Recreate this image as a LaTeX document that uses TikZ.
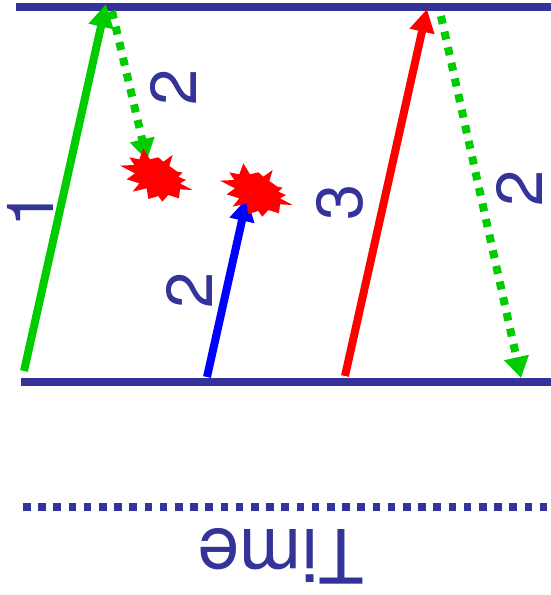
\documentclass[tikz,border=0pt]{standalone}
\usepackage{fontspec}
\setmainfont{TeX Gyre Heros}
\usetikzlibrary{arrows.meta}
\definecolor{navy}{HTML}{333399}
\definecolor{grn}{HTML}{00CC00}
\tikzset{
  baseline rule/.style={draw=navy,line width=8pt},
  msg/.style={line width=8pt,-{Triangle[length=23pt,width=24pt]}},
  retry/.style={line width=8pt,dash pattern=on 8pt off 8pt,-{Triangle[length=21pt,width=24pt]}},
  numlabel/.style={text=navy,font=\fontsize{65}{65}\selectfont,rotate=90,inner sep=0pt},
  timelabel/.style={text=navy,font=\fontsize{75}{75}\selectfont,rotate=180,inner sep=0pt},
  burst/.style={fill=red,draw=none}
}
\newcommand{\burstpath}{(60,107) -- (103,105) -- (88,82) -- (118,88) -- (130,55) -- (150,88) -- (175,82) -- (190,95) -- (218,75) -- (208,108) -- (232,125) -- (248,128) -- (235,140) -- (258,150) -- (240,160) -- (278,180) -- (240,178) -- (237,205) -- (205,195) -- (187,215) -- (175,198) -- (145,207) -- (140,175) -- (98,185) -- (118,160) -- (80,148) -- (105,130) -- cycle}
\begin{document}
\begin{tikzpicture}[x=1pt,y=-1pt]
\useasboundingbox (0,0) rectangle (551,595);
% named ends
\coordinate (topL) at (16,6.5);
\coordinate (topR) at (551,6.5);
\coordinate (botL) at (21,381.5);
\coordinate (botR) at (551,381.5);
\coordinate (timeL) at (23,507);
\coordinate (timeR) at (547,507);
\coordinate (a1s) at (24,371);
\coordinate (a1e) at (106,4);
\coordinate (d1s) at (112,11);
\coordinate (d1e) at (147,160);
\coordinate (a2s) at (207,377);
\coordinate (a2e) at (247,198);
\coordinate (a3s) at (345,376);
\coordinate (a3e) at (427,9);
\coordinate (d2s) at (441,16);
\coordinate (d2e) at (521,378);
% rules
\draw[baseline rule] (topL) -- (topR);
\draw[baseline rule] (botL) -- (botR);
\draw[draw=navy,line width=8pt,dash pattern=on 7.6pt off 7.6pt] (timeL) -- (timeR);
% arrows
\draw[msg,grn] (a1s) -- (a1e);
\draw[retry,grn] (d1s) -- (d1e);
\draw[msg,blue] (a2s) -- (a2e);
\draw[msg,red] (a3s) -- (a3e);
\draw[retry,grn] (d2s) -- (d2e);
% bursts
\begin{scope}[shift={(100,130)},x=0.3333pt,y=-0.3333pt]
\path[burst] \burstpath;
\end{scope}
\begin{scope}[shift={(200,145)},x=0.3333pt,y=-0.3333pt]
\path[burst] \burstpath;
\end{scope}
% labels
\node[numlabel] (n1) at (30,209) {1};
\node[numlabel] (n2a) at (173,87) {2};
\node[numlabel] (n2b) at (189,290) {2};
\node[numlabel] (n3) at (340,202) {3};
\node[numlabel] (n2c) at (519,188) {2};
\node[timelabel] (time) at (281,556) {Time};
\end{tikzpicture}
\end{document}
